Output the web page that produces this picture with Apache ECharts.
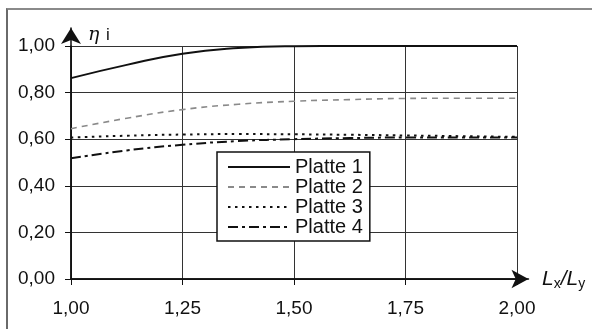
<!DOCTYPE html>
<html>
<head>
<meta charset="utf-8">
<script src="https://cdn.jsdelivr.net/npm/echarts@6/dist/echarts.min.js"></script>
<style>
html,body{margin:0;padding:0;background:#fff;}
#wrap{position:relative;width:592px;height:329px;overflow:hidden;}
#frame{position:absolute;left:6px;top:8px;width:600px;height:340px;border-left:2px solid #6a6a6a;border-top:2px solid #8a8a8a;}
#chart{position:absolute;left:0;top:0;width:592px;height:329px;}
</style>
</head>
<body>
<div id="wrap"><div id="frame"></div><div id="chart"></div></div>
<script>
const xValues = [1.0, 1.125, 1.25, 1.375, 1.5, 1.625, 1.75, 1.875, 2.0];
const seriesNames = ['Platte 1', 'Platte 2', 'Platte 3', 'Platte 4'];
const platte1 = [0.862, 0.919, 0.967, 0.991, 0.999, 1.0, 1.0, 1.0, 1.0];
const platte2 = [0.645, 0.690, 0.727, 0.750, 0.763, 0.770, 0.775, 0.776, 0.776];
const platte3 = [0.607, 0.615, 0.620, 0.622, 0.621, 0.619, 0.616, 0.613, 0.610];
const platte4 = [0.518, 0.552, 0.576, 0.592, 0.600, 0.605, 0.607, 0.607, 0.607];
const xTicks = [1.0, 1.25, 1.5, 1.75, 2.0];
const yTicks = [0, 0.2, 0.4, 0.6, 0.8, 1.0];

const fmt = v => v.toFixed(2).replace('.', ',');
const pair = arr => xValues.map((x, i) => [x, arr[i]]);
const FONT = 'Liberation Sans, Arial, sans-serif';

const chart = echarts.init(document.getElementById('chart'), null, {renderer: 'canvas'});
const styles = [
  {color: '#111', width: 2, type: 'solid'},
  {color: '#8a8a8a', width: 1.6, type: [6, 5]},
  {color: '#111', width: 2, type: [2.5, 4.5]},
  {color: '#111', width: 2, type: [10, 4, 3, 4]}
];
const data = [platte1, platte2, platte3, platte4];

chart.setOption({
  animation: false,
  backgroundColor: 'transparent',
  grid: [
    {left: 71, right: 75, top: 46, bottom: 50},
    {left: 71, right: 63.5, top: 28, bottom: 50}
  ],
  legend: {
    data: seriesNames,
    orient: 'vertical',
    left: 217, top: 152,
    backgroundColor: '#fff',
    borderColor: '#111', borderWidth: 1.5, borderRadius: 0,
    padding: [5, 7, 4, 10],
    itemGap: 0,
    itemWidth: 62, itemHeight: 14,
    itemStyle: {opacity: 0},
    textStyle: {fontFamily: FONT, fontSize: 20, color: '#111', lineHeight: 19.5}
  },
  xAxis: [
    {
      type: 'value', gridIndex: 0, min: 1.0, max: 2.0, interval: 0.25,
      axisLine: {show: true, lineStyle: {color: '#111', width: 1.5}},
      axisTick: {show: true, length: 6, lineStyle: {color: '#111'}},
      axisLabel: {margin: 20, fontFamily: FONT, fontSize: 19, color: '#111',
        formatter: v => fmt(v)},
      splitLine: {show: true, lineStyle: {color: '#333', width: 1}}
    },
    {
      type: 'value', gridIndex: 1, min: 0, max: 1,
      axisLine: {show: true, symbol: ['none', 'arrow'], symbolSize: [14, 17],
        lineStyle: {color: '#111', width: 1.5}},
      axisTick: {show: false}, axisLabel: {show: false}, splitLine: {show: false},
      name: '{L|L}{s|x}{L|/L}{s|y}',
      nameLocation: 'end', nameGap: 13.5,
      nameTextStyle: {align: 'left', verticalAlign: 'middle',
        rich: {
          L: {fontFamily: FONT, fontSize: 21, fontStyle: 'italic', color: '#111', lineHeight: 22},
          s: {fontFamily: FONT, fontSize: 14, color: '#111', padding: [10, 0, 0, 0], lineHeight: 22}
        }}
    }
  ],
  yAxis: [
    {
      type: 'value', gridIndex: 0, min: 0, max: 1.0, interval: 0.2,
      axisLine: {show: true, lineStyle: {color: '#111', width: 1.5}},
      axisTick: {show: true, length: 6, lineStyle: {color: '#111'}},
      axisLabel: {margin: 16, fontFamily: FONT, fontSize: 19, color: '#111',
        formatter: v => fmt(v)},
      splitLine: {show: true, lineStyle: {color: '#333', width: 1}}
    },
    {
      type: 'value', gridIndex: 1, min: 0, max: 1,
      axisLine: {show: true, symbol: ['none', 'arrow'], symbolSize: [15, 16],
        lineStyle: {color: '#111', width: 1.5}},
      axisTick: {show: false}, axisLabel: {show: false}, splitLine: {show: false},
      name: '{g|η}  {i|i}',
      nameLocation: 'end', nameGap: -7,
      nameTextStyle: {align: 'left', verticalAlign: 'middle', padding: [0, 0, 0, 17],
        rich: {
          g: {fontFamily: 'DejaVu Serif, serif', fontSize: 19, fontStyle: 'italic', color: '#111'},
          i: {fontFamily: FONT, fontSize: 17, color: '#111'}
        }}
    }
  ],
  series: seriesNames.map((n, k) => ({
    name: n, type: 'line', xAxisIndex: 0, yAxisIndex: 0,
    data: pair(data[k]), smooth: 0.5, symbol: 'none', showSymbol: false,
    lineStyle: styles[k], itemStyle: {color: styles[k].color}, z: 3 + (k === 0 ? 1 : 0)
  }))
});
</script>
</body>
</html>
